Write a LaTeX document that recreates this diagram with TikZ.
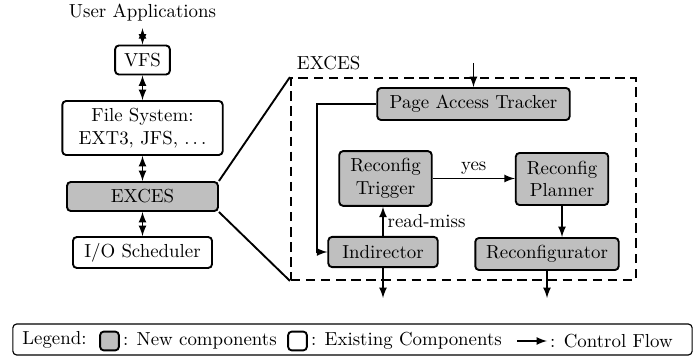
\documentclass[tikz,border=0pt]{standalone}
\usetikzlibrary{positioning,arrows}

\begin{document}
\begin{tikzpicture}[
        % define styles
        x=0.53pt, y=-0.53pt,
        comp/.style={
            draw, line width=1pt,
            rounded corners=2pt,
            align=center,
            inner sep=2pt
        },
        newcomp/.style={
            comp,
            fill=gray!50
        },
        flow/.style={->, line width=0.9pt},
        both/.style={<->, line width=0.9pt},
        >=latex
    ]
    \useasboundingbox (0,0) rectangle (694,356);

    % storage stack on the left
    \node (user) at (142.5,13) {User Applications};
    \node[comp, minimum width=29pt, minimum height=15.4pt] (vfs) at (142.5,60) {VFS};
    \node[comp, minimum width=85pt, minimum height=28.6pt] (fs) at (142.5,128) {File System:\\EXT3, JFS, $\ldots$};
    \node[newcomp, minimum width=80pt, minimum height=15.4pt] (exces) at (142.5,196.5) {EXCES};
    \node[comp, minimum width=73.7pt, minimum height=16.4pt] (io) at (142.5,252.5) {I/O Scheduler};

    \draw[both] (user) -- (vfs);
    \draw[both] (vfs) -- (fs);
    \draw[both] (fs) -- (exces);
    \draw[both] (exces) -- (io);

    % zoomed view of EXCES
    \node[draw, line width=1pt, dash pattern=on 5pt off 3pt, minimum width=183pt, minimum height=107pt] (zoom) at (463.5,179) {};
    \node[anchor=south west, inner sep=3.5pt] (zoomlbl) at (zoom.north west) {EXCES};
    \draw[line width=1pt] (exces.north east) -- (zoom.north west);
    \draw[line width=1pt] (exces.south east) -- (zoom.south west);

    \node[newcomp, minimum width=102pt, minimum height=17pt] (pat) at (473.5,104) {Page Access Tracker};
    \node[newcomp, minimum width=49pt, minimum height=29pt] (rt) at (385.5,178.5) {Reconfig\\Trigger};
    \node[newcomp, minimum width=49pt, minimum height=27.6pt] (rp) at (562,179) {Reconfig\\Planner};
    \node[newcomp, minimum width=58pt, minimum height=16pt] (ind) at (383,252) {Indirector};
    \node[newcomp, minimum width=76pt, minimum height=17pt] (rcf) at (547,254) {Reconfigurator};

    % free ends of the flows
    \coordinate (patin) at (473.5,63);
    \coordinate (indout) at (383,298);
    \coordinate (rcfout) at (547,298);

    \draw[flow] (patin) -- (pat.north);
    \draw[flow] (pat.west) -- ++(-59,0) |- (ind.west);
    \draw[flow] (ind.north) -- (ind.north |- rt.south)
        node[midway, right, inner sep=2pt] (rmlbl) {read-miss};
    \draw[flow] (rt.east) -- (rt.east -| rp.west)
        node[midway, above, inner sep=1.5pt] (yeslbl) {yes};
    \draw[flow] (rp.south) -- (rp.south |- rcf.north);
    \draw[flow] (ind.south) -- (indout);
    \draw[flow] (rcf.south) -- (rcfout);

    % legend
    \node[draw, semithick, rounded corners=2pt, minimum width=360pt, minimum height=16.4pt] (legend) at (352.5,339.5) {};
    \node[anchor=west, inner sep=0pt] (legtxt) at (22,340) {Legend:};
    \node[newcomp, inner sep=0pt, minimum size=10pt] (legnew) at (109.5,341) {};
    \node[right=0pt of legnew, inner sep=1.5pt] (legnewtxt) {: New components};
    \node[comp, inner sep=0pt, minimum size=10pt] (legold) at (297.5,341) {};
    \node[right=0pt of legold, inner sep=1.5pt] (legoldtxt) {: Existing Components};
    \coordinate (legarr) at (517,341);
    \coordinate (legarrend) at (547,341);
    \draw[flow] (legarr) -- (legarrend);
    \node[right=0pt of legarrend, inner sep=1.5pt] (legflowtxt) {: Control Flow};

\end{tikzpicture}
\end{document}
